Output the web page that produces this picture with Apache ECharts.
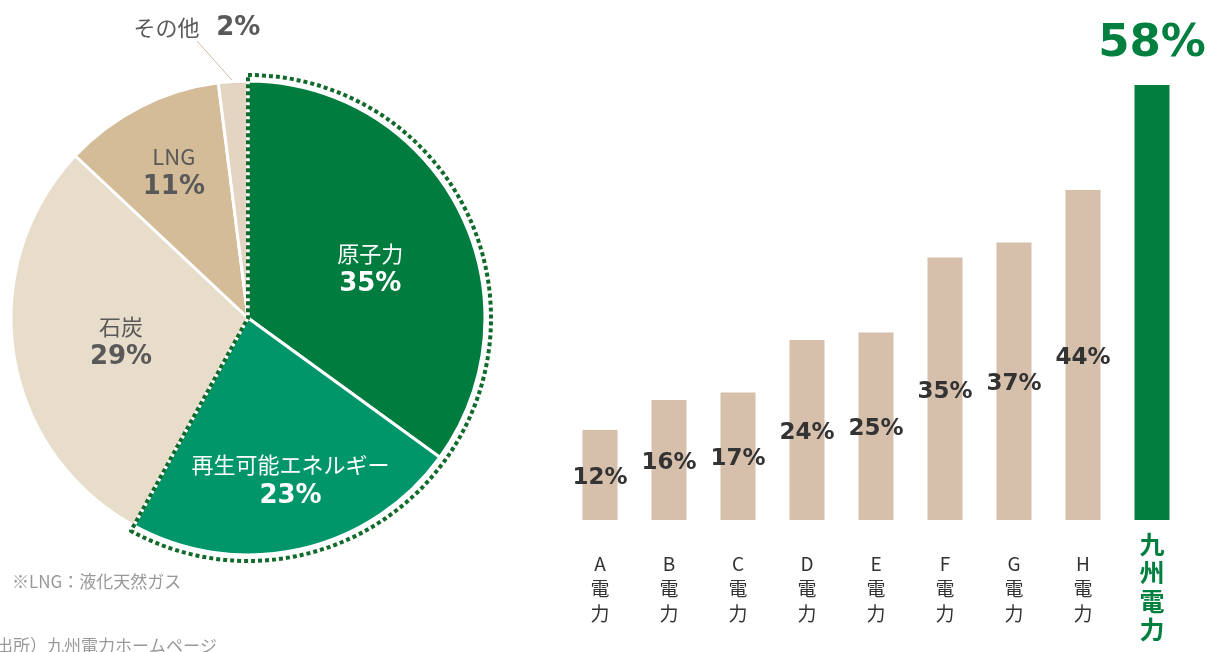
<!DOCTYPE html>
<html><head><meta charset="utf-8">
<script src="https://cdn.jsdelivr.net/npm/echarts@6/dist/echarts.min.js"></script>
<style>html,body{margin:0;padding:0;background:#fff}#c{width:1209px;height:652px}</style>
</head><body><div id="c"></div>
<script>
// ---- data ----
const pieNames = ['原子力', '再生可能エネルギー', '石炭', 'LNG', 'その他'];
const pieValues = [35, 23, 29, 11, 2];
const barCategories = ['A電力', 'B電力', 'C電力', 'D電力', 'E電力', 'F電力', 'G電力', 'H電力', '九州電力'];
const barValues = [12, 16, 17, 24, 25, 35, 37, 44, 58];
const cleanShare = 58; // 原子力 + 再生可能エネルギー
const footnote = '※LNG：液化天然ガス';
const source = '出所）九州電力ホームページ';

// ---- style ----
const CJK = '"Noto Sans CJK JP", "Noto Sans", sans-serif';
const NUM = '"DejaVu Sans", sans-serif';
const pieColors = ['#007d3e', '#00966a', '#e8ddcb', '#d4bc98', '#e4d4c2'];
const pieTextColors = ['#ffffff', '#ffffff', '#595959', '#595959', '#595959'];
const pieLabelShift = [[14, 6], [16, 44], [-7, 5], [-19, -38]];
const GREEN = '#007f3f';
const TAN = '#d7c0ab';

function pieRich(col) {
  return {
    n: { fontFamily: CJK, fontSize: 22, color: col, lineHeight: 31 },
    p: { fontFamily: NUM, fontSize: 26, fontWeight: 'bold', color: col, lineHeight: 31 }
  };
}

const pieData = pieNames.map((n, i) => {
  const item = { name: n, value: pieValues[i], itemStyle: { color: pieColors[i] } };
  if (i < 4) {
    item.label = { position: 'inside', formatter: '{n|{b}}\n{p|{c}%}', rich: pieRich(pieTextColors[i]) };
    item.labelLine = { show: false };
  } else {
    item.label = { position: 'outside', formatter: '{n|{b}}     {p|{c}%}', rich: pieRich('#595959') };
    item.labelLine = { show: true, length: 25, length2: 0, lineStyle: { color: '#cdb9a3', width: 1 } };
  }
  return item;
});

function catLabel(v) {
  if (v === '九州電力') return v.split('').map(c => '{k|' + c + '}').join('\n');
  const lines = [v.slice(0, v.length - 2), v.slice(-2, -1), v.slice(-1)];
  return ['{s| }'].concat(lines.map(c => '{n|' + c + '}')).join('\n');
}

const chart = echarts.init(document.getElementById('c'), null, { renderer: 'canvas' });
chart.setOption({
  animation: false,
  grid: { left: 565.5, right: 22.5, top: 70, bottom: 132 },
  xAxis: {
    type: 'category', data: barCategories,
    axisLine: { show: false }, axisTick: { show: false },
    axisLabel: {
      interval: 0, margin: 10,
      formatter: catLabel,
      rich: {
        s: { fontSize: 1, lineHeight: 21.5 },
        n: { fontFamily: CJK, fontSize: 19, color: '#333', lineHeight: 25 },
        k: { fontFamily: CJK, fontSize: 25, fontWeight: 'bold', color: GREEN, lineHeight: 28.5 }
      }
    }
  },
  yAxis: { type: 'value', min: 0, max: 60, show: false, splitLine: { show: false } },
  series: [
    {
      type: 'pie', center: [248, 318], radius: [0, 237], startAngle: 90, clockwise: true,
      silent: true,
      itemStyle: { borderColor: '#fff', borderWidth: 3 },
      label: { show: true },
      data: pieData,
      labelLayout: function (p) {
        if (p.dataIndex < 4) {
          const s = pieLabelShift[p.dataIndex];
          return { dx: s[0], dy: s[1] };
        }
        return { x: 197, y: 28, align: 'center', verticalAlign: 'middle' };
      }
    },
    {
      type: 'pie', center: [248, 318], radius: [0, 243], startAngle: 90, clockwise: true,
      silent: true, z: 5,
      label: { show: false }, labelLine: { show: false },
      data: [
        { value: cleanShare, itemStyle: { color: 'rgba(0,0,0,0)', borderColor: '#0f6a2b', borderWidth: 4, borderType: [4, 3] } },
        { value: 100 - cleanShare, itemStyle: { color: 'rgba(0,0,0,0)', borderWidth: 0 } }
      ]
    },
    {
      type: 'bar', barWidth: 35, silent: true,
      data: barValues.map((v, i) => {
        const last = i === barValues.length - 1;
        return {
          value: v,
          itemStyle: { color: last ? GREEN : TAN },
          label: last
            ? { show: true, position: 'top', distance: 16, formatter: '{c}%', fontFamily: NUM, fontWeight: 'bold', fontSize: 45, lineHeight: 50, color: GREEN }
            : { show: true, position: 'inside', offset: [0, 3], formatter: '{c}%', fontFamily: NUM, fontWeight: 'bold', fontSize: 23, color: '#333' }
        };
      })
    }
  ],
  graphic: [
    { type: 'text', left: 12, top: 573, style: { text: footnote, font: '17px ' + CJK, fill: '#999' } },
    { type: 'text', left: -4, top: 637, style: { text: source, font: '17px ' + CJK, fill: '#999' } }
  ]
});
</script>
</body></html>
